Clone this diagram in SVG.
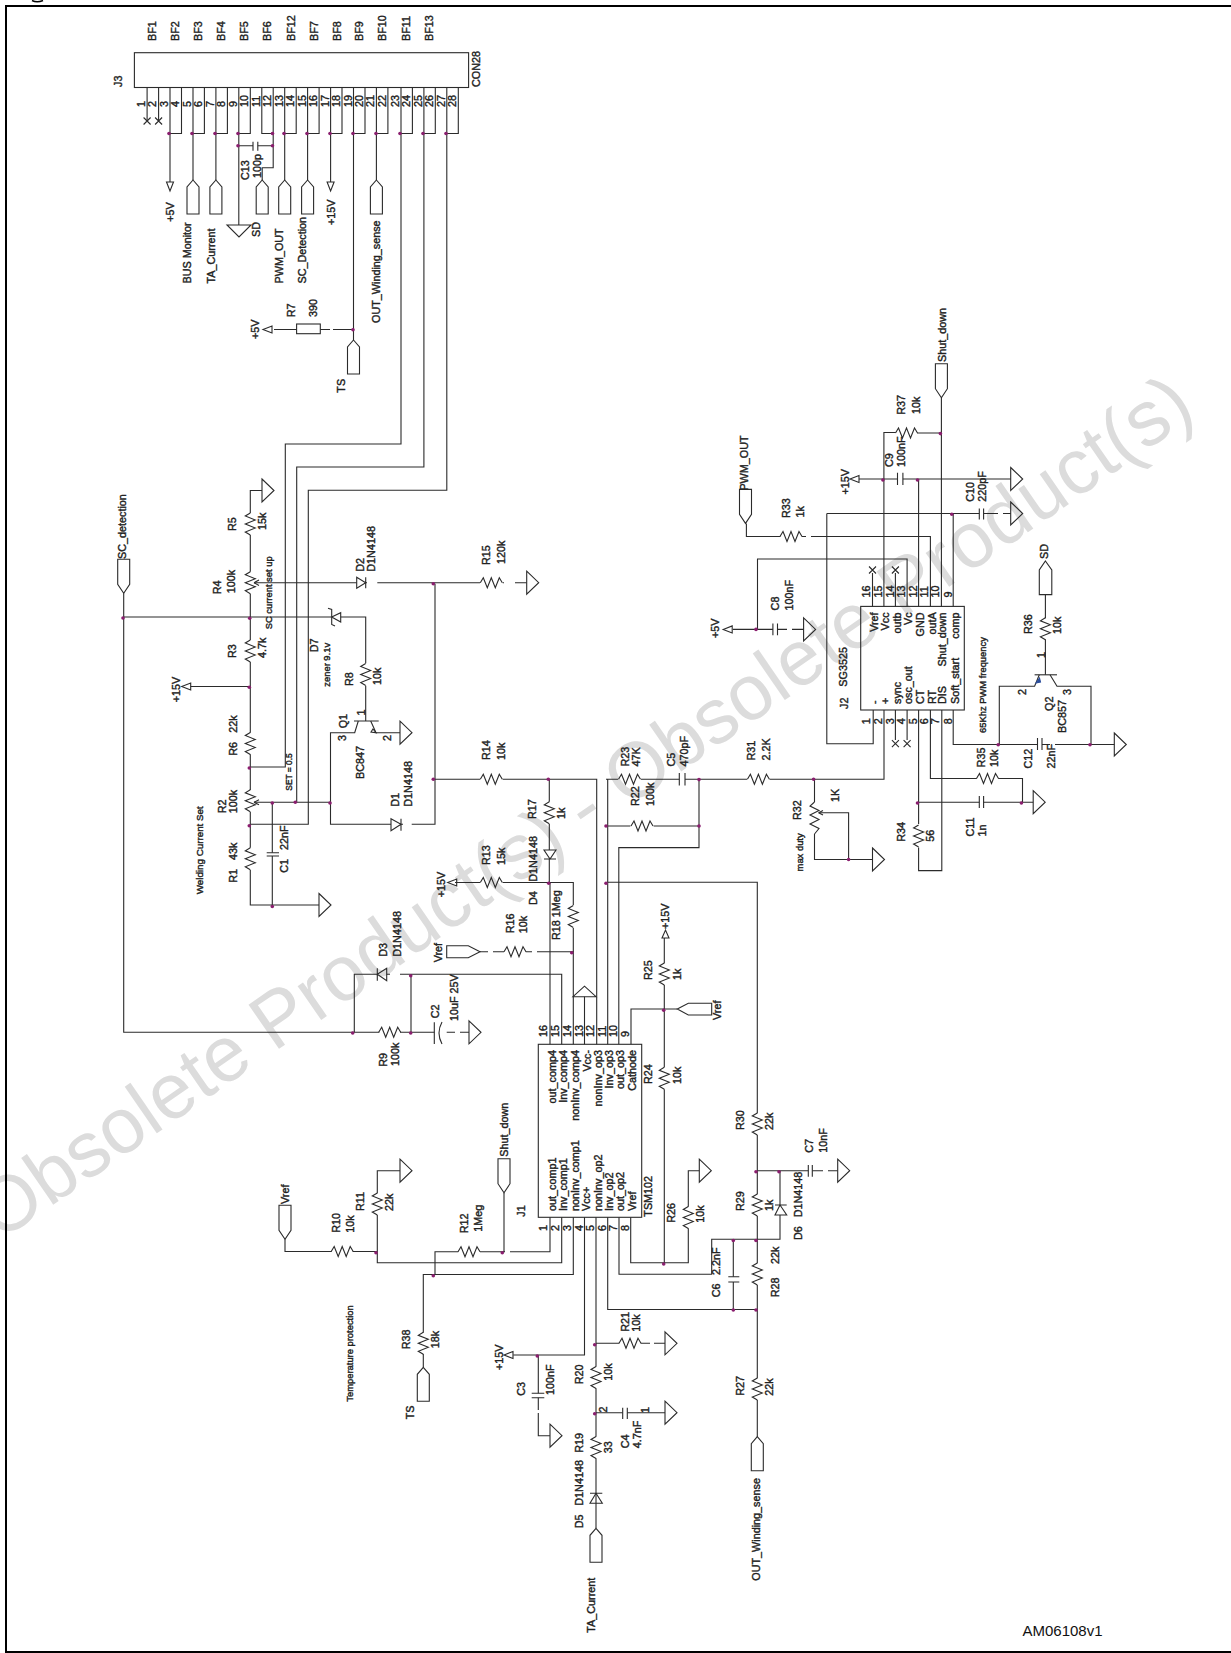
<svg xmlns="http://www.w3.org/2000/svg" width="1231" height="1653" viewBox="0 0 1231 1653">
<style>
path,rect{fill:none;stroke:#2b2b2b;stroke-width:1.1}
circle{fill:#8a1e6e;stroke:none}
text{font-family:"Liberation Sans",Arial,sans-serif;font-size:10.8px;fill:#222;stroke:#222;stroke-width:.4}
.s text,text.s{font-size:9.4px}
.e{text-anchor:end}
.wm{font-size:78px;fill:#dcdcdc;stroke:none}
.am{font-size:15px;stroke:none;fill:#111}
#frame rect{stroke:#000;stroke-width:2}
</style>
<defs>
<path id="rv" d="M0-11L-5-8L5-4L-5 0L5 4L-5 8L0 11"/>
<path id="rh" d="M-11 0L-8-5L-4 5L0-5L4 5L8-5L11 0"/>
<path id="x" d="M-3.5-3.5L3.5 3.5M3.5-3.5L-3.5 3.5"/>
<path id="gr" d="M0-11.5L12 0L0 11.5Z"/>
<path id="gd" d="M-12 0H12L0 12Z"/>
<path id="gu" d="M-11.5 0H11.5L0-10.5Z"/>
<path id="ad" d="M-3.5 0H3.5L0 9Z"/>
<path id="au" d="M-3.5 0H3.5L0-8Z"/>
<path id="al" d="M0 0L9-3.5V3.5Z"/>
<path id="pu" d="M0 0L6 7V34H-6V7Z"/>
<path id="pd" d="M0 0L-6-9V-34H6V-9Z"/>
</defs>
<g id="watermark"><text class="wm" transform="translate(-1 1242) rotate(-34.6)">Obsolete Product(s) - Obsolete Product(s)</text></g>
<g id="frame"><rect x="6" y="6" width="1240" height="1646"/><path d="M32 .5Q37 3 43 .5" style="stroke:#000;stroke-width:1.6"/></g>
<g id="connectors">
<path d="M147.1 87.5V120M158.6 87.5V120"/>
<path d="M170 87.5V182M181.5 87.5V133.5H170"/>
<path d="M193 87.5V180M204.4 87.5V133.5H193"/>
<path d="M215.9 87.5V180M227.4 87.5V133.5H215.9"/>
<path d="M238.8 87.5V225M250.3 87.5V133.5H238.8"/>
<path d="M238.8 145.7H253M257.8 145.7H272.8"/>
<path d="M261.8 87.5V133.5H273.2V167.7H262.2V180M273.2 87.5V133.5"/>
<path d="M284.7 87.5V180M296.2 87.5V133.5H284.7"/>
<path d="M307.6 87.5V180M319.1 87.5V133.5H307.6"/>
<path d="M330.6 87.5V182M342 87.5V133.5H330.6"/>
<path d="M353.5 87.5V340M365 87.5V133.5H353.5"/>
<path d="M376.4 87.5V180M387.9 87.5V133.5H376.4"/>
<path d="M274 329.5H296.6M320.3 329.5H330M333 329.5H353.5"/>
<path d="M401 87.5V444H285.3V767H250.3M412.4 87.5V133.5H401"/>
<path d="M423.9 87.5V467H296.7V802.3M435.3 87.5V133.5H423.9"/>
<path d="M446.8 87.5V490.3H308.3V824.3H250.3M458.3 87.5V133.5H446.8"/>
<path d="M262 490.5H250.3V513M250.3 535V571.7M250.3 593.7V640M250.3 662V732.7M250.3 754.3V790M250.3 812V847.7M250.3 870V905H319"/>
<path d="M254 582.7H356.7M365.7 582.7H367M377.3 582.7H480M502.7 582.7H504M515 582.7H526.7"/>
<path d="M123.7 593.3V1032.3H379.3M400 1032.3H434.3M446.7 1032.3H455M460 1032.3H469"/>
<path d="M123.7 617H331.7M340.7 617H365.7V663.3M365.7 685.7V721"/>
<path d="M190.7 686.5H250.3"/>
<path d="M254 802.3H330.5V732.7H354.7L358.3 721M370.7 721L376 732.7H400M330.5 802.3V824.3H391M401 824.3H403M411.7 824.3H435V583.7"/>
<path d="M272.3 802.3V852.7M272.3 856V906"/>
<path d="M434 779.3H480M502.7 779.3H596.7V1044.3"/>
<path d="M549.3 779.3V801.7M549.3 824V850M549.3 859V883M455 882.5H480M502.7 882.5H573.3V905M573.3 928V1044.3"/>
<path d="M550 883V1044.3"/>
<path d="M480 951.7H488M493 951.7H504M525.7 951.7H532M537 951.7H573.3"/>
<path d="M354.3 1032.3V974.3H377.3M386.7 974.3H390M400 974.3H561.7V1044.3M411 974.3V1032.3"/>
<path d="M584.5 996.7V1044.3"/>
<path d="M607.7 779.3V1044.3M606 779.3H618M641 779.3H679.3M685 779.3H747M769.6 779.3H884V710"/>
<path d="M606 826H630.4M653.6 826H699"/>
<path d="M699 779.5V847.6H618.8V1044.3"/>
<path d="M607.7 882.3H757.3V1113.3M757.3 1135V1194.3M757.3 1216V1263.3M757.3 1285V1378.3M757.3 1400V1436.7"/>
<path d="M814.5 779.3V802M814.5 834V859.5H872.5M818.6 812.8H848.6V859.5"/>
<path d="M631 1044.3V1009H677.3"/>
<path d="M664.3 938V963.3M664.3 985V1067.3M664.3 1089.3V1263M630.7 1217.3V1262.7H688.3V1228.3M688.3 1206.7V1170.7H699.3"/>
<path d="M757.3 1170.7H808.3M812.3 1170.7H823M828 1170.7H837.7"/>
<path d="M780 1171V1205M780 1215V1239.3H711.7V1274.3H619V1217.3"/>
<path d="M733.3 1239.3V1276.7M733.3 1282V1309.5"/>
<path d="M607.7 1217.3V1309.5H757.3"/>
<path d="M550 1217.3V1251.7H510M505 1251.7H480M458.3 1251.7H435V1275"/>
<path d="M504 1192.7V1252"/>
<path d="M561.7 1217.3V1262.7H377.3V1215M377.3 1193.3V1170.7H400"/>
<path d="M285 1239.3V1251.5H331.7M352.7 1251.5H377"/>
<path d="M573.3 1217.3V1274.5H423.3V1332.7M423.3 1354V1367.3"/>
<path d="M584.5 1217.3V1355H513.3M538.3 1355V1393.3M538.3 1397.7V1410M538.3 1413V1435.7H550"/>
<path d="M596 1217.3V1366.7M596 1388.3V1436.7M596 1458.3V1528.3"/>
<path d="M596 1343.3H619.3M640.7 1343.3H650M654 1343.3H665"/>
<path d="M596 1412.7H622.7M627.3 1412.7H665"/>
<path d="M883.9 606.4V432.5H895.7M917 433H941.4"/>
<path d="M941.4 397.7V606.4M941.8 710V870.6H918.6V847.6M918.6 824V710"/>
<path d="M907.1 606.4V559H757.5V629.4"/>
<path d="M732.9 629.4H772.9M777.5 629.4H787M792 629.4H803.6"/>
<path d="M859 479H897.5M902.9 479H1010.7"/>
<path d="M918.6 606.4V479"/>
<path d="M930.4 606.4V536.5H811M806 536.5H801.8M780.4 536.5H746.4V523.4"/>
<path d="M953.2 606.4V513.5M826.8 513.5H979.3M983.6 513.5H998M1003 513.5H1010.7M826.8 513.5V743.7H873.2V710"/>
<path d="M872.5 606.4V573M895.4 606.4V573M895.4 710V740M907.1 710V740"/>
<path d="M930.4 710V778.5H976.8M998.2 778.5H1022.5V803M918 802.2H979.3M983.6 802.2H1033.2"/>
<path d="M953.2 710V744.5H1037.5M1042 744.5H1050M1055 744.5H1114.3"/>
<path d="M1045.4 594.6V618.3M1045.4 639.3V674.8M1039.3 674.8L1034.6 686.3H999.3V744.5M1050 674.8L1057 686.3H1091V744.5"/>
</g>
<g id="J3">
<rect x="134.4" y="52.7" width="334.2" height="34.8"/>
<use href="#x" x="147.1" y="121"/><use href="#x" x="158.6" y="121"/>
<text transform="translate(122 87)rotate(-90)">J3</text><text transform="translate(480 87)rotate(-90)">CON28</text>
<text transform="translate(156 41)rotate(-90)">BF1</text><text transform="translate(179 41)rotate(-90)">BF2</text><text transform="translate(202 41)rotate(-90)">BF3</text><text transform="translate(225 41)rotate(-90)">BF4</text><text transform="translate(248 41)rotate(-90)">BF5</text><text transform="translate(271 41)rotate(-90)">BF6</text><text transform="translate(294.5 41)rotate(-90)">BF12</text><text transform="translate(317.5 41)rotate(-90)">BF7</text><text transform="translate(340.5 41)rotate(-90)">BF8</text><text transform="translate(363.3 41)rotate(-90)">BF9</text><text transform="translate(386.3 41)rotate(-90)">BF10</text><text transform="translate(410 41)rotate(-90)">BF11</text><text transform="translate(433 41)rotate(-90)">BF13</text>
<text transform="translate(144.5 107)rotate(-90)">1</text><text transform="translate(156 107)rotate(-90)">2</text><text transform="translate(167.5 107)rotate(-90)">3</text><text transform="translate(179 107)rotate(-90)">4</text><text transform="translate(190.5 107)rotate(-90)">5</text><text transform="translate(202 107)rotate(-90)">6</text><text transform="translate(213.5 107)rotate(-90)">7</text><text transform="translate(225 107)rotate(-90)">8</text><text transform="translate(236.5 107)rotate(-90)">9</text><text transform="translate(248 107)rotate(-90)">10</text><text transform="translate(259.5 107)rotate(-90)">11</text><text transform="translate(271 107)rotate(-90)">12</text><text transform="translate(282.5 107)rotate(-90)">13</text><text transform="translate(294 107)rotate(-90)">14</text><text transform="translate(305.5 107)rotate(-90)">15</text><text transform="translate(317 107)rotate(-90)">16</text><text transform="translate(328.5 107)rotate(-90)">17</text><text transform="translate(340 107)rotate(-90)">18</text><text transform="translate(351.5 107)rotate(-90)">19</text><text transform="translate(363 107)rotate(-90)">20</text><text transform="translate(374 107)rotate(-90)">21</text><text transform="translate(385.5 107)rotate(-90)">22</text><text transform="translate(398.5 107)rotate(-90)">23</text><text transform="translate(410 107)rotate(-90)">24</text><text transform="translate(421.5 107)rotate(-90)">25</text><text transform="translate(433 107)rotate(-90)">26</text><text transform="translate(444.5 107)rotate(-90)">27</text><text transform="translate(456 107)rotate(-90)">28</text>
<circle cx="169" cy="133.5" r="1.8"/><circle cx="192" cy="133.5" r="1.8"/><circle cx="215" cy="133.5" r="1.8"/><circle cx="238" cy="133.5" r="1.8"/><circle cx="272.5" cy="133.5" r="1.8"/><circle cx="284" cy="133.5" r="1.8"/><circle cx="307" cy="133.5" r="1.8"/><circle cx="330" cy="133.5" r="1.8"/><circle cx="353" cy="133.5" r="1.8"/><circle cx="376" cy="133.5" r="1.8"/><circle cx="400" cy="133.5" r="1.8"/><circle cx="423" cy="133.5" r="1.8"/><circle cx="446" cy="133.5" r="1.8"/>
</g>
<g id="P5V1"><use href="#ad" x="170" y="182"/><text transform="translate(174.3 221.7)rotate(-90)">+5V</text></g>
<g id="BUS"><use href="#pu" x="193" y="180"/><text transform="translate(191.3 283.5)rotate(-90)">BUS Monitor</text></g>
<g id="TA1"><use href="#pu" x="215.9" y="180"/><text transform="translate(214.5 283.5)rotate(-90)">TA_Current</text></g>
<g id="GND1"><use href="#gd" x="239" y="225"/></g>
<g id="C13"><path d="M253 141.7V150.7M257.8 141.7V150.7"/><circle cx="238" cy="145.7" r="1.8"/><circle cx="272.5" cy="145.7" r="1.8"/><text transform="translate(248.7 180)rotate(-90)">C13</text><text transform="translate(260.5 178)rotate(-90)">100p</text></g>
<g id="SD1"><use href="#pu" x="262.2" y="180"/><text transform="translate(259.7 237)rotate(-90)">SD</text></g>
<g id="PWM1"><use href="#pu" x="284.7" y="180"/><text transform="translate(282.7 283.5)rotate(-90)">PWM_OUT</text></g>
<g id="SC1"><use href="#pu" x="307.6" y="180"/><text transform="translate(305.5 283.5)rotate(-90)">SC_Detection</text></g>
<g id="P15V1"><use href="#ad" x="330.6" y="182"/><text transform="translate(334.9 225)rotate(-90)">+15V</text></g>
<g id="TS1"><use href="#pu" x="353.5" y="340"/><circle cx="353" cy="329.7" r="1.8"/><text transform="translate(345.1 392.7)rotate(-90)">TS</text></g>
<g id="OUT1"><use href="#pu" x="376.4" y="180"/><text transform="translate(379.9 323)rotate(-90)">OUT_Winding_sense</text></g>
<g id="R7"><rect x="296.6" y="324" width="23.7" height="9.7"/><use href="#al" x="263" y="329.5"/><text transform="translate(258.5 339)rotate(-90)">+5V</text><text transform="translate(294.9 317.3)rotate(-90)">R7</text><text transform="translate(317.1 317)rotate(-90)">390</text></g>
<g id="R5"><use href="#gr" x="262" y="490.5"/><use href="#rv" x="250.3" y="524"/><text transform="translate(236.2 531)rotate(-90)">R5</text><text transform="translate(266.2 530)rotate(-90)">15k</text></g>
<g id="R4"><use href="#rv" x="250.3" y="582.7"/><path d="M254 582.7L259 580M254 582.7L259 585.4"/><text transform="translate(220.8 594.3)rotate(-90)">R4</text><text transform="translate(235.2 593.3)rotate(-90)">100k</text><text class="s" transform="translate(271.8 629.3)rotate(-90)">SC current set up</text></g>
<g id="D2"><path d="M356.7 577.3L365.7 582.7L356.7 588.3ZM365.7 577.3V588.3"/><text transform="translate(364.2 571.7)rotate(-90)">D2</text><text transform="translate(375.2 571.7)rotate(-90)">D1N4148</text></g>
<g id="R15"><use href="#rh" x="491.3" y="582.7"/><use href="#gr" x="526.7" y="582.7"/><circle cx="433.3" cy="583.7" r="1.8"/><text transform="translate(490.2 565)rotate(-90)">R15</text><text transform="translate(504.5 564)rotate(-90)">120k</text></g>
<g id="SCD"><use href="#pd" x="123.7" y="593.3"/><circle cx="123" cy="618" r="1.8"/><circle cx="249.7" cy="618.3" r="1.8"/><text transform="translate(126.2 559)rotate(-90)">SC_detection</text></g>
<g id="D7"><path d="M331.7 617L340.7 612.7V622ZM328 608.3L331.7 609.5V624.5L335 626"/><text transform="translate(317.8 652.3)rotate(-90)">D7</text><text class="s" transform="translate(329.5 686.7)rotate(-90)">zener 9.1v</text></g>
<g id="R3"><use href="#rv" x="250.3" y="651"/><text transform="translate(236.2 658)rotate(-90)">R3</text><text transform="translate(266.2 658)rotate(-90)">4.7k</text></g>
<g id="P15V2"><use href="#al" x="181.7" y="686.5"/><circle cx="249.3" cy="687.3" r="1.8"/><text transform="translate(180.2 702.3)rotate(-90)">+15V</text></g>
<g id="R8"><use href="#rv" x="365.7" y="674.5"/><text transform="translate(353 686)rotate(-90)">R8</text><text transform="translate(381 685)rotate(-90)">10k</text></g>
<g id="Q1"><path d="M354 721H378.7M373 729L376 732.7L371 732Z"/><use href="#gr" x="400" y="732.7"/><text transform="translate(365.2 715.5)rotate(-90)">1</text><text transform="translate(346.2 741)rotate(-90)">3</text><text transform="translate(391.2 741)rotate(-90)">2</text><text transform="translate(346.8 728.3)rotate(-90)">Q1</text><text transform="translate(364.2 779)rotate(-90)">BC847</text></g>
<g id="R6"><use href="#rv" x="250.3" y="743.5"/><circle cx="249.3" cy="768" r="1.8"/><text transform="translate(236.8 755.7)rotate(-90)">R6</text><text transform="translate(236.8 732.7)rotate(-90)">22k</text></g>
<g id="R2"><use href="#rv" x="250.3" y="800.8"/><path d="M254 802.3L259 799.8M254 802.3L259 804.8"/><circle cx="272.3" cy="803" r="1.8"/><circle cx="295.3" cy="802.3" r="1.8"/><circle cx="330" cy="803" r="1.8"/><text transform="translate(225.8 813.3)rotate(-90)">R2</text><text transform="translate(236.8 813.3)rotate(-90)">100k</text><text style="font-size:9.8px" transform="translate(202.5 894.3)rotate(-90)">Welding Current Set</text><text style="font-size:8.4px" transform="translate(291.8 790.7)rotate(-90)">SET = 0.5</text></g>
<g id="R1"><use href="#rv" x="250.3" y="858.8"/><circle cx="249.3" cy="825.7" r="1.8"/><text transform="translate(236.8 882.7)rotate(-90)">R1</text><text transform="translate(236.8 860)rotate(-90)">43k</text></g>
<g id="C1"><path d="M266.7 852.7H279M266.7 856H279"/><use href="#gr" x="319" y="905"/><circle cx="272.3" cy="906.5" r="1.8"/><text transform="translate(287.5 872.7)rotate(-90)">C1</text><text transform="translate(287.5 850)rotate(-90)">22nF</text></g>
<g id="D1"><path d="M391 818.7L401 824.3L391 830.7ZM401 818.7V830.7"/><text transform="translate(398.5 806.7)rotate(-90)">D1</text><text transform="translate(411.8 806.7)rotate(-90)">D1N4148</text></g>
<g id="R14"><use href="#rh" x="491.3" y="779.3"/><circle cx="433.3" cy="779.3" r="1.8"/><circle cx="548.3" cy="779.3" r="1.8"/><text transform="translate(490.2 760)rotate(-90)">R14</text><text transform="translate(504.5 760)rotate(-90)">10k</text></g>
<g id="R17"><use href="#rv" x="549.3" y="812.8"/><text transform="translate(536.2 819)rotate(-90)">R17</text><text transform="translate(565.2 819)rotate(-90)">1k</text></g>
<g id="D4"><path d="M544 850H556L550 859ZM544 859H556"/><circle cx="548.7" cy="883.3" r="1.8"/><text transform="translate(536.8 881.7)rotate(-90)">D1N4148</text><text transform="translate(536.8 905)rotate(-90)">D4</text></g>
<g id="R13"><use href="#rh" x="491.3" y="882.5"/><use href="#al" x="447.7" y="882.5"/><text transform="translate(445.2 897.3)rotate(-90)">+15V</text><text transform="translate(490.2 865)rotate(-90)">R13</text><text transform="translate(504.5 865)rotate(-90)">15k</text></g>
<g id="R18"><use href="#rv" x="573.3" y="916.5"/><text transform="translate(560.2 940)rotate(-90)">R18 1Meg</text></g>
<g id="D3"><path d="M377.3 974.3L386.7 968.3V980.7ZM377.3 968.3V980.7"/><circle cx="410.7" cy="975.7" r="1.8"/><text transform="translate(386.8 956.7)rotate(-90)">D3</text><text transform="translate(400.8 956.7)rotate(-90)">D1N4148</text></g>
<g id="R9"><use href="#rh" x="389.7" y="1032.3"/><circle cx="352.7" cy="1033" r="1.8"/><circle cx="410.7" cy="1033" r="1.8"/><text transform="translate(386.8 1066.7)rotate(-90)">R9</text><text transform="translate(398.5 1066)rotate(-90)">100k</text></g>
<g id="C2"><path d="M434.3 1022.3V1044M442 1022Q436 1033 442 1044"/><use href="#gr" x="469" y="1032.3"/><text transform="translate(439.2 1018.3)rotate(-90)">C2</text><text transform="translate(457.8 1021)rotate(-90)">10uF 25V</text></g>
<g id="Vref1"><path d="M480 951.7L468.3 945.7H446.7V957.7H468.3Z"/><circle cx="571.7" cy="952.7" r="1.8"/><text transform="translate(441.8 962.3)rotate(-90)">Vref</text></g>
<g id="R16"><use href="#rh" x="515" y="951.7"/><text transform="translate(513.5 933.3)rotate(-90)">R16</text><text transform="translate(526.8 933.3)rotate(-90)">10k</text></g>
<g id="GND13"><use href="#gu" x="584.5" y="996.7"/></g>
<g id="J1">
<rect x="538.3" y="1044.3" width="103.4" height="173"/>
<text transform="translate(546.8 1037)rotate(-90)">16</text><text transform="translate(558.5 1037)rotate(-90)">15</text><text transform="translate(570.8 1037)rotate(-90)">14</text><text transform="translate(582.5 1037)rotate(-90)">13</text><text transform="translate(593.8 1037)rotate(-90)">12</text><text transform="translate(605.8 1037)rotate(-90)">11</text><text transform="translate(616.8 1037)rotate(-90)">10</text><text transform="translate(628.5 1037)rotate(-90)">9</text>
<text transform="translate(546.8 1231)rotate(-90)">1</text><text transform="translate(558.5 1231)rotate(-90)">2</text><text transform="translate(570.8 1231)rotate(-90)">3</text><text transform="translate(582.5 1231)rotate(-90)">4</text><text transform="translate(593.8 1231)rotate(-90)">5</text><text transform="translate(605.8 1231)rotate(-90)">6</text><text transform="translate(616.8 1231)rotate(-90)">7</text><text transform="translate(628.5 1231)rotate(-90)">8</text>
<text class="e" transform="translate(556.2 1050)rotate(-90)">out_comp4</text><text class="e" transform="translate(566.8 1050)rotate(-90)">Inv_comp4</text><text class="e" transform="translate(579.2 1050)rotate(-90)">nonInv_comp4</text><text class="e" transform="translate(590.8 1050)rotate(-90)">Vcc-</text><text class="e" transform="translate(601.8 1050)rotate(-90)">nonInv_op3</text><text class="e" transform="translate(612.5 1050)rotate(-90)">Inv_op3</text><text class="e" transform="translate(624.2 1050)rotate(-90)">out_op3</text><text class="e" transform="translate(635.8 1050)rotate(-90)">Cathode</text>
<text transform="translate(556.2 1211)rotate(-90)">out_comp1</text><text transform="translate(566.8 1211)rotate(-90)">Inv_comp1</text><text transform="translate(578.5 1211)rotate(-90)">nonInv_comp1</text><text transform="translate(589.5 1211)rotate(-90)">Vcc+</text><text transform="translate(601.8 1211)rotate(-90)">nonInv_op2</text><text transform="translate(612.5 1211)rotate(-90)">Inv_op2</text><text transform="translate(624.2 1211)rotate(-90)">out_op2</text><text transform="translate(635.8 1211)rotate(-90)">Vref</text>
<text transform="translate(651.8 1216.7)rotate(-90)">TSM102</text><text transform="translate(525.2 1216.7)rotate(-90)">J1</text>
</g>
<g id="R25"><use href="#au" x="665.5" y="938"/><use href="#rv" x="664.3" y="974"/><circle cx="663.7" cy="1010.3" r="1.8"/><text transform="translate(668.5 929)rotate(-90)">+15V</text><text transform="translate(651.8 980)rotate(-90)">R25</text><text transform="translate(680.8 980)rotate(-90)">1k</text></g>
<g id="Vref2"><path d="M677.3 1009L688.3 1003.3H711.7V1015H688.3Z"/><text transform="translate(720.8 1020)rotate(-90)">Vref</text></g>
<g id="R24"><use href="#rv" x="664.3" y="1078.3"/><circle cx="663.7" cy="1264" r="1.8"/><text transform="translate(651.8 1084)rotate(-90)">R24</text><text transform="translate(680.8 1084)rotate(-90)">10k</text></g>
<g id="R26"><use href="#rv" x="688.3" y="1217.5"/><use href="#gr" x="699.3" y="1170.7"/><text transform="translate(674.5 1222.7)rotate(-90)">R26</text><text transform="translate(703.5 1222.7)rotate(-90)">10k</text></g>
<g id="R30"><use href="#rv" x="757.3" y="1124"/><circle cx="756" cy="1171.7" r="1.8"/><circle cx="606" cy="883.3" r="1.8"/><text transform="translate(743.5 1130)rotate(-90)">R30</text><text transform="translate(772.8 1130)rotate(-90)">22k</text></g>
<g id="C7"><path d="M808.3 1165V1176.7M812.3 1165V1176.7"/><use href="#gr" x="837.7" y="1170.7"/><circle cx="779" cy="1171.7" r="1.8"/><text transform="translate(812.8 1152.7)rotate(-90)">C7</text><text transform="translate(826.8 1152.7)rotate(-90)">10nF</text></g>
<g id="D6"><path d="M780 1205L786.7 1215H775ZM775 1205H786.7"/><text transform="translate(801.8 1240)rotate(-90)">D6</text><text transform="translate(801.8 1217.3)rotate(-90)">D1N4148</text></g>
<g id="R29"><use href="#rv" x="757.3" y="1205"/><circle cx="733.3" cy="1240.5" r="1.8"/><circle cx="756" cy="1240.5" r="1.8"/><text transform="translate(743.5 1211)rotate(-90)">R29</text><text transform="translate(772.8 1211)rotate(-90)">1k</text></g>
<g id="R28"><use href="#rv" x="757.3" y="1274"/><circle cx="756" cy="1310" r="1.8"/><text transform="translate(778.5 1297.3)rotate(-90)">R28</text><text transform="translate(778.5 1264)rotate(-90)">22k</text></g>
<g id="C6"><path d="M728.3 1276.7H739.3M728.3 1282H739.3"/><circle cx="733.3" cy="1310" r="1.8"/><text transform="translate(720.2 1297.3)rotate(-90)">C6</text><text transform="translate(720.2 1275)rotate(-90)">2.2nF</text></g>
<g id="R12"><use href="#rh" x="469" y="1251.7"/><circle cx="502.3" cy="1252.7" r="1.8"/><circle cx="433.3" cy="1275.7" r="1.8"/><text transform="translate(467.5 1233.3)rotate(-90)">R12</text><text transform="translate(481.8 1231.7)rotate(-90)">1Meg</text></g>
<g id="SD2"><use href="#pd" x="504" y="1192.7"/><text transform="translate(507.8 1156.7)rotate(-90)">Shut_down</text></g>
<g id="R11"><use href="#rv" x="377.3" y="1204"/><use href="#gr" x="400" y="1170.7"/><circle cx="376" cy="1252.7" r="1.8"/><text transform="translate(364.2 1211)rotate(-90)">R11</text><text transform="translate(392.8 1211)rotate(-90)">22k</text></g>
<g id="R10"><use href="#rh" x="342.2" y="1251.5"/><use href="#pd" x="285" y="1239.3"/><text transform="translate(288.8 1204)rotate(-90)">Vref</text><text transform="translate(340.2 1232.7)rotate(-90)">R10</text><text transform="translate(354.2 1232.7)rotate(-90)">10k</text></g>
<g id="R38"><use href="#rv" x="423.3" y="1343.3"/><use href="#pu" x="423.3" y="1367.3"/><text transform="translate(409.5 1349.3)rotate(-90)">R38</text><text transform="translate(438.5 1348.3)rotate(-90)">18k</text><text transform="translate(414.2 1419.3)rotate(-90)">TS</text><text class="s" transform="translate(352.5 1401.7)rotate(-90)">Temperature protection</text></g>
<g id="C3"><path d="M531.7 1393.3H544.3M531.7 1397.7H544.3"/><use href="#al" x="504" y="1355"/><use href="#gr" x="550" y="1435.7"/><circle cx="537.3" cy="1356" r="1.8"/><text transform="translate(502.5 1370)rotate(-90)">+15V</text><text transform="translate(525.2 1395.7)rotate(-90)">C3</text><text transform="translate(554.2 1395)rotate(-90)">100nF</text></g>
<g id="R20"><use href="#rv" x="596" y="1377.5"/><circle cx="594.7" cy="1344.7" r="1.8"/><text transform="translate(582.8 1384.3)rotate(-90)">R20</text><text transform="translate(611.8 1380.7)rotate(-90)">10k</text></g>
<g id="R21"><use href="#rh" x="630" y="1343.3"/><use href="#gr" x="665" y="1343.3"/><text transform="translate(628.5 1331.7)rotate(-90)">R21</text><text transform="translate(640.2 1331.7)rotate(-90)">10k</text></g>
<g id="C4"><path d="M622.7 1407.7V1419M627.3 1407.7V1419"/><use href="#gr" x="665" y="1412.7"/><circle cx="594.7" cy="1413.7" r="1.8"/><text transform="translate(606.8 1412.5)rotate(-90)">2</text><text transform="translate(649.2 1413)rotate(-90)">1</text><text transform="translate(628.5 1448.3)rotate(-90)">C4</text><text transform="translate(640.8 1448.3)rotate(-90)">4.7nF</text></g>
<g id="R19"><use href="#rv" x="596" y="1447.5"/><text transform="translate(582.8 1452.7)rotate(-90)">R19</text><text transform="translate(611.8 1453.3)rotate(-90)">33</text></g>
<g id="D5"><path d="M596 1493.3L602.3 1503.3H590ZM590 1493.3H602.3"/><text transform="translate(582.8 1528.3)rotate(-90)">D5</text><text transform="translate(582.8 1505.7)rotate(-90)">D1N4148</text></g>
<g id="TA2"><use href="#pu" x="596" y="1528.3"/><text transform="translate(594.5 1632.7)rotate(-90)">TA_Current</text></g>
<g id="R27"><use href="#rv" x="757.3" y="1389"/><use href="#pu" x="757.3" y="1436.7"/><text transform="translate(744.2 1395.7)rotate(-90)">R27</text><text transform="translate(772.8 1395.7)rotate(-90)">22k</text><text transform="translate(760.2 1580.7)rotate(-90)">OUT_Winding_sense</text></g>
<g id="R23"><use href="#rh" x="629.5" y="779.3"/><circle cx="606" cy="826" r="1.8"/><text transform="translate(628.5 766.6)rotate(-90)">R23</text><text transform="translate(640.3 766.6)rotate(-90)">47K</text></g>
<g id="R22"><use href="#rh" x="642" y="826"/><circle cx="699" cy="826" r="1.8"/><text transform="translate(639.2 806)rotate(-90)">R22</text><text transform="translate(654.2 806)rotate(-90)">100k</text></g>
<g id="C5"><path d="M679.3 773V785.6M685 773V785.6"/><circle cx="699" cy="779.6" r="1.8"/><text transform="translate(674.9 766.6)rotate(-90)">C5</text><text transform="translate(687.5 766.6)rotate(-90)">470pF</text></g>
<g id="R31"><use href="#rh" x="758.4" y="779.3"/><circle cx="813.6" cy="779.3" r="1.8"/><text transform="translate(755.3 760.6)rotate(-90)">R31</text><text transform="translate(769.5 760.6)rotate(-90)">2.2K</text></g>
<g id="R32"><path d="M814.5 802L810 806L819 810.5L810 815L819 819.5L810 824L819 828.5L814.5 834"/><path d="M818.6 812.8L823 810.5M818.6 812.8L823 815"/><use href="#gr" x="872.5" y="859.5"/><circle cx="848.6" cy="859.5" r="1.8"/><text transform="translate(801 820)rotate(-90)">R32</text><text transform="translate(838.5 802)rotate(-90)">1K</text><text class="s" transform="translate(802.8 871.4)rotate(-90)">max duty</text></g>
<g id="J2">
<rect x="860.7" y="606.4" width="103.6" height="103.6"/>
<use href="#x" x="872.5" y="570"/><use href="#x" x="895.4" y="570"/><use href="#x" x="895.4" y="743.7"/><use href="#x" x="907.1" y="743.7"/>
<text transform="translate(870.3 597.4)rotate(-90)">16</text><text transform="translate(882.1 597.4)rotate(-90)">15</text><text transform="translate(893.5 597.4)rotate(-90)">14</text><text transform="translate(905.3 597.4)rotate(-90)">13</text><text transform="translate(916.7 597.4)rotate(-90)">12</text><text transform="translate(927.8 597.4)rotate(-90)">11</text><text transform="translate(939.2 597.4)rotate(-90)">10</text><text transform="translate(951.7 597.4)rotate(-90)">9</text>
<text transform="translate(870.3 724.3)rotate(-90)">1</text><text transform="translate(882.1 724.3)rotate(-90)">2</text><text transform="translate(893.5 724.3)rotate(-90)">3</text><text transform="translate(905.3 724.3)rotate(-90)">4</text><text transform="translate(916.7 724.3)rotate(-90)">5</text><text transform="translate(927.8 724.3)rotate(-90)">6</text><text transform="translate(939.2 724.3)rotate(-90)">7</text><text transform="translate(951.7 724.3)rotate(-90)">8</text>
<text class="e" transform="translate(877.8 612.4)rotate(-90)">Vref</text><text class="e" transform="translate(889.2 612.4)rotate(-90)">Vcc</text><text class="e" transform="translate(901 612.4)rotate(-90)">outb</text><text class="e" transform="translate(912.4 612.4)rotate(-90)">Vc</text><text class="e" transform="translate(923.9 612.4)rotate(-90)">GND</text><text class="e" transform="translate(935.5 612.4)rotate(-90)">outA</text><text class="e" transform="translate(946.4 612.4)rotate(-90)">Shut_down</text><text class="e" transform="translate(958.9 612.4)rotate(-90)">comp</text>
<text transform="translate(877.8 704)rotate(-90)">-</text><text transform="translate(889.2 704)rotate(-90)">+</text><text transform="translate(901 704)rotate(-90)">sync</text><text transform="translate(912.4 704)rotate(-90)">osc_out</text><text transform="translate(923.9 704)rotate(-90)">CT</text><text transform="translate(935.5 704)rotate(-90)">RT</text><text transform="translate(946.4 704)rotate(-90)">DIS</text><text transform="translate(958.9 704)rotate(-90)">Soft_start</text>
<text transform="translate(847.1 686.7)rotate(-90)">SG3525</text><text transform="translate(848.1 709)rotate(-90)">J2</text>
</g>
<g id="R37"><use href="#rh" x="906.5" y="433"/><circle cx="940.4" cy="433.6" r="1.8"/><text transform="translate(905.3 414.7)rotate(-90)">R37</text><text transform="translate(919.5 414)rotate(-90)">10k</text></g>
<g id="SD3"><use href="#pd" x="941.4" y="397.7"/><text transform="translate(945.5 362)rotate(-90)">Shut_down</text></g>
<g id="C9"><path d="M897.5 472.8V485M902.9 472.8V485"/><use href="#al" x="850" y="479"/><use href="#gr" x="1010.7" y="479"/><circle cx="882.9" cy="480" r="1.8"/><circle cx="917.5" cy="480" r="1.8"/><text transform="translate(848.9 494.5)rotate(-90)">+15V</text><text transform="translate(892.8 467)rotate(-90)">C9</text><text transform="translate(905.3 467)rotate(-90)">100nF</text></g>
<g id="C10"><path d="M979.3 508.4V519.5M983.6 508.4V519.5"/><use href="#gr" x="1010.7" y="513.5"/><circle cx="951.8" cy="514.3" r="1.8"/><text transform="translate(974.2 501.7)rotate(-90)">C10</text><text transform="translate(986.4 501.7)rotate(-90)">220pF</text></g>
<g id="R33"><use href="#rh" x="791" y="536.5"/><use href="#pd" x="745.5" y="523.4"/><text transform="translate(790.3 518)rotate(-90)">R33</text><text transform="translate(804.2 517.5)rotate(-90)">1k</text><text transform="translate(748.1 490.6)rotate(-90)">PWM_OUT</text></g>
<g id="C8"><path d="M772.9 623.4V635.3M777.5 623.4V635.3"/><use href="#al" x="723.2" y="629.4"/><use href="#gr" x="803.6" y="629.4"/><circle cx="756" cy="629.4" r="1.8"/><text transform="translate(718.5 638)rotate(-90)">+5V</text><text transform="translate(778.5 610.4)rotate(-90)">C8</text><text transform="translate(792.8 610.4)rotate(-90)">100nF</text></g>
<g id="R35"><use href="#rh" x="987.5" y="778.5"/><text transform="translate(984.9 767.4)rotate(-90)">R35</text><text transform="translate(997.5 767)rotate(-90)">10k</text></g>
<g id="C11"><path d="M979.3 796V808M983.6 796V808"/><use href="#gr" x="1033.2" y="802.2"/><circle cx="917.5" cy="803" r="1.8"/><circle cx="1021.4" cy="803" r="1.8"/><text transform="translate(973.9 836.6)rotate(-90)">C11</text><text transform="translate(986.4 836.6)rotate(-90)">1n</text></g>
<g id="R34"><use href="#rv" x="918.6" y="836"/><text transform="translate(905.3 841.7)rotate(-90)">R34</text><text transform="translate(933.9 841.7)rotate(-90)">56</text></g>
<g id="C12"><path d="M1037.5 738V750M1042 738V750"/><use href="#gr" x="1114.3" y="744.5"/><circle cx="998.2" cy="744.8" r="1.8"/><circle cx="1090" cy="744.8" r="1.8"/><text transform="translate(1032.1 768.6)rotate(-90)">C12</text><text transform="translate(1055.3 768.6)rotate(-90)">22nF</text></g>
<g id="Q2"><path d="M1034.6 674.8H1057"/><path d="M1036 683L1039.5 678L1040.5 682Z" style="fill:#2a4d9c;stroke:#2a4d9c"/><text transform="translate(1044.5 658)rotate(-90)">1</text><text transform="translate(1026 695)rotate(-90)">2</text><text transform="translate(1071.4 695)rotate(-90)">3</text><text transform="translate(1052.8 711)rotate(-90)">Q2</text><text transform="translate(1066 733)rotate(-90)">BC857</text><text class="s" transform="translate(986.4 733)rotate(-90)">65Khz PWM frequency</text></g>
<g id="R36"><use href="#rv" x="1045.4" y="628.8"/><path d="M1045.4 561L1051.8 570V594.6H1039.3V570Z"/><text transform="translate(1048.1 559)rotate(-90)">SD</text><text transform="translate(1032.1 634)rotate(-90)">R36</text><text transform="translate(1060.5 634)rotate(-90)">10k</text></g>
<g id="am"><text class="am" x="1022.5" y="1635.5">AM06108v1</text></g>
</svg>
